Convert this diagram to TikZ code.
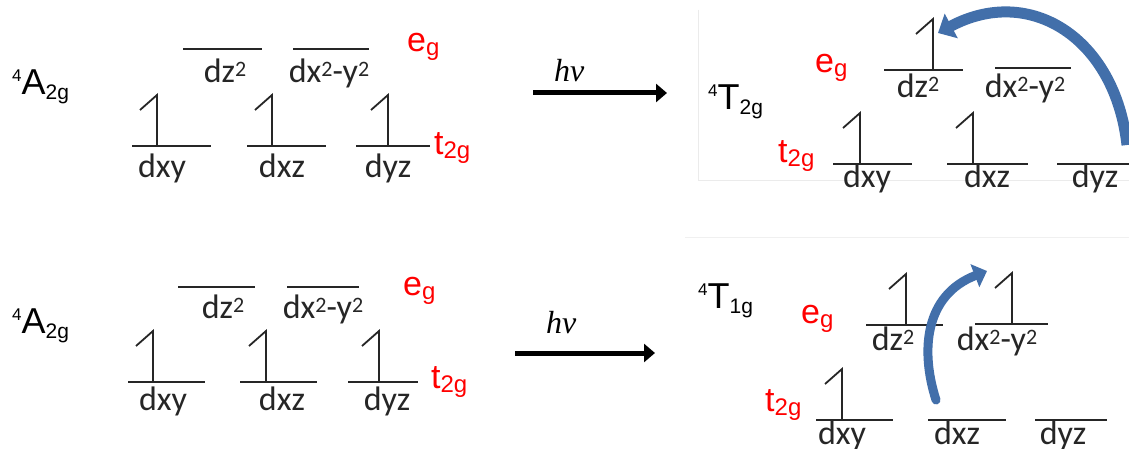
\documentclass[tikz,border=0pt]{standalone}
\usepackage{fontspec}
\setmainfont{Liberation Sans}
\newfontfamily\orbfont{Carlito}
\newfontfamily\hnufont{Liberation Serif}
\usetikzlibrary{arrows.meta}
\definecolor{arrblue}{RGB}{66,111,170}
\newcommand\stlab[3]{\raisebox{13pt}{\fontsize{17}{17}\selectfont #1}{\fontsize{36}{36}\selectfont #2}\raisebox{-5pt}{\fontsize{21}{21}\selectfont #3}}
\newcommand\redlab[2]{\textcolor{red}{{\fontsize{34}{34}\selectfont #1}\raisebox{-4pt}{\fontsize{24}{24}\selectfont #2}}}
\newcommand\sqtwo{\raisebox{6pt}{\fontsize{22}{22}\selectfont 2}}
\newcommand\spinat[2]{\draw[lvl] (#1,#2) -- ++(0,-51) -- ++(-17,15);}
\begin{document}
\begin{tikzpicture}[x=1pt,y=-1pt,
  lvl/.style={line width=1.8pt, line cap=butt, black!85},
  orb/.style={inner sep=0pt, anchor=base, font=\orbfont\fontsize{34}{34}\selectfont, text=black!85},
  st/.style={inner sep=0pt, anchor=base west, text=black},
  rl/.style={inner sep=0pt, anchor=base west},
  hv/.style={inner sep=0pt, anchor=base west, font=\hnufont\itshape\fontsize{32}{32}\selectfont},
  bigarrow/.style={line width=5pt, -{Triangle[length=11pt,width=18pt]}},
  bluearrow/.style={draw=arrblue, line width=11pt, -{Triangle[length=15pt,width=27pt]}}]
\useasboundingbox (0,0) rectangle (1129,449);
\fill[white] (0,0) rectangle (1129,449);
% faint panel edges
\draw[black!8, line width=0.6pt] (698,10) -- (698,180) -- (1129,180);
\draw[black!6, line width=0.6pt] (685,237) -- (1129,237);

% ===== Top-left =====
\node[st] (tlA) at (12,95) {\stlab{4}{A}{2g}};
\draw[lvl] (132,146) -- (211,146); \draw[lvl] (247,146) -- (326,146); \draw[lvl] (356,146) -- (430,146);
\spinat{157}{146} \spinat{272}{146} \spinat{388}{146}
\draw[lvl] (183,49) -- (262,49); \draw[lvl] (293,49) -- (369,49);
\node[orb] (tlxy) at (162,178) {dxy};
\node[orb] (tlxz) at (282,178) {dxz};
\node[orb] (tlyz) at (388,178) {dyz};
\node[orb] (tlz2) at (225,83) {dz\sqtwo};
\node[orb] (tlx2) at (329,83) {dx\sqtwo-y\sqtwo};
\node[rl] (tleg) at (407,52) {\redlab{e}{g}};
\node[rl] (tlt2g) at (434,155) {\redlab{t}{2g}};

% ===== Bottom-left =====
\node[st] (blA) at (12,333) {\stlab{4}{A}{2g}};
\draw[lvl] (128,382) -- (205,382); \draw[lvl] (240,382) -- (317,382); \draw[lvl] (348,382) -- (418,382);
\spinat{153}{382} \spinat{266}{382} \spinat{379}{382}
\draw[lvl] (178,287) -- (255,287); \draw[lvl] (287,287) -- (359,287);
\node[orb] (blxy) at (163,410) {dxy};
\node[orb] (blxz) at (282,410) {dxz};
\node[orb] (blyz) at (387,410) {dyz};
\node[orb] (blz2) at (223,318) {dz\sqtwo};
\node[orb] (blx2) at (323,318) {dx\sqtwo-y\sqtwo};
\node[rl] (bleg) at (403,295) {\redlab{e}{g}};
\node[rl] (blt2g) at (431,388) {\redlab{t}{2g}};

% ===== arrows h nu =====
\coordinate (ta1) at (533,93); \coordinate (ta2) at (667,93);
\draw[bigarrow] (ta1) -- (ta2);
\node[hv] (thv) at (554,82) {hν};
\coordinate (ba1) at (515,353); \coordinate (ba2) at (655,353);
\draw[bigarrow] (ba1) -- (ba2);
\node[hv] (bhv) at (546,333) {hν};

% ===== Top-right =====
\node[st] (trT) at (708,110) {\stlab{4}{T}{2g}};
\node[rl] (treg) at (815,73) {\redlab{e}{g}};
\node[rl] (trt2g) at (778,163) {\redlab{t}{2g}};
\draw[lvl] (884,70) -- (963,70); \draw[lvl] (995,68) -- (1071,68);
\spinat{933}{70}
\draw[lvl] (833,164) -- (912,164); \draw[lvl] (947,164) -- (1028,164); \draw[lvl] (1057,164) -- (1129,164);
\spinat{860}{164} \spinat{973}{164}
\node[orb] (trz2) at (918,98) {dz\sqtwo};
\node[orb] (trx2) at (1025,98) {dx\sqtwo-y\sqtwo};
\node[orb] (trxy) at (867,188) {dxy};
\node[orb] (trxz) at (987,188) {dxz};
\node[orb] (tryz) at (1095,188) {dyz};
\coordinate (trtail) at (1127,145);
\coordinate (trhead) at (938,33);
\draw[bluearrow] (trtail) .. controls (1115,38) and (1030,-16) .. (trhead);

% ===== Bottom-right =====
\node[st] (brT) at (698,308) {\stlab{4}{T}{1g}};
\node[rl] (breg) at (801,323) {\redlab{e}{g}};
\node[rl] (brt2g) at (765,411) {\redlab{t}{2g}};
\draw[lvl] (866,325) -- (943,325); \draw[lvl] (975,324) -- (1048,324);
\spinat{906}{325} \spinat{1012}{324}
\draw[lvl] (816,420) -- (893,420); \draw[lvl] (928,420) -- (1006,420); \draw[lvl] (1035,420) -- (1107,420);
\spinat{842}{420}
\node[orb] (brz2) at (893,350) {dz\sqtwo};
\node[orb] (brx2) at (997,350) {dx\sqtwo-y\sqtwo};
\node[orb] (brxy) at (842,444) {dxy};
\node[orb] (brxz) at (957,444) {dxz};
\node[orb] (bryz) at (1063,444) {dyz};
\coordinate (brtail) at (936,400);
\coordinate (brhead) at (987,271);
\draw[bluearrow, line width=9pt, line cap=round, -{Triangle[length=13pt,width=24pt]}] (brtail) .. controls (920,350) and (925,295) .. (brhead);
\end{tikzpicture}
\end{document}
